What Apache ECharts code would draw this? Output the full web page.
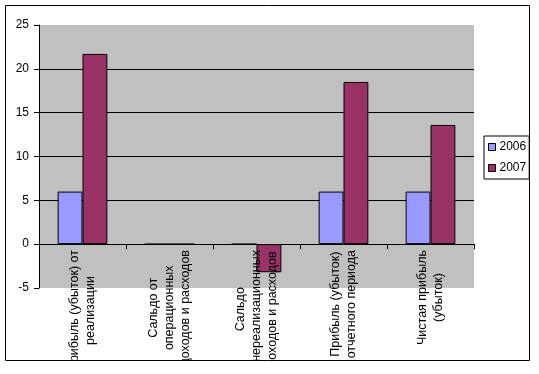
<!DOCTYPE html>
<html>
<head>
<meta charset="utf-8">
<script src="https://cdn.jsdelivr.net/npm/echarts@6/dist/echarts.min.js"></script>
<style>
  html, body { margin: 0; padding: 0; background: #ffffff; }
  #chart { width: 539px; height: 361px; }
</style>
</head>
<body>
<div id="chart"></div>
<script>
const categories = [
  'Прибыль (убыток) от\nреализации',
  'Сальдо от\nоперационных\nдоходов и расходов',
  'Сальдо\nвнереализационных\nдоходов и расходов',
  'Прибыль (убыток)\nотчетного периода',
  'Чистая прибыль\n(убыток)'
];
const seriesNames = ['2006', '2007'];
const values2006 = [6, 0, 0, 6, 6];
const values2007 = [21.7, 0, -3.2, 18.5, 13.6];
const yMin = -5;
const yMax = 25;
const yStep = 5;

const FONT = '"Liberation Sans", Arial, sans-serif';
const chart = echarts.init(document.getElementById('chart'), null, { renderer: 'canvas' });

chart.setOption({
  animation: false,
  backgroundColor: '#ffffff',
  textStyle: { fontFamily: FONT, color: '#000' },
  grid: {
    left: 39, right: 65, top: 25, bottom: 73,
    containLabel: false,
    outerBoundsMode: 'none',
    show: true, backgroundColor: '#C0C0C0', borderWidth: 0
  },
  legend: {
    data: seriesNames,
    orient: 'vertical',
    left: 484, top: 136,
    itemWidth: 7, itemHeight: 7, itemGap: 7,
    icon: 'rect',
    padding: [4, 3, 4, 4],
    borderColor: '#000', borderWidth: 1,
    backgroundColor: '#fff',
    itemStyle: { borderColor: '#000', borderWidth: 1 },
    textStyle: { fontFamily: FONT, fontSize: 12, lineHeight: 14, color: '#000', padding: [0, 0, 0, -1] }
  },
  xAxis: {
    type: 'category',
    data: categories,
    boundaryGap: true,
    z: 5,
    axisLine: { onZero: true, lineStyle: { color: '#000', width: 1 } },
    axisTick: { show: true, interval: 0, length: 5, inside: false, alignWithLabel: false, lineStyle: { color: '#000' } },
    axisLabel: {
      interval: 0,
      rotate: 90,
      margin: -38,
      fontFamily: FONT,
      fontSize: 12.5,
      lineHeight: 16,
      color: '#000',
      formatter: function (v) {
        return v.split('\n').map(function (s) { return '{c|' + s + '}'; }).join('\n');
      },
      rich: {
        c: { align: 'center', fontFamily: FONT, fontSize: 12.5, lineHeight: 16, color: '#000' }
      }
    },
    splitLine: { show: false }
  },
  yAxis: {
    type: 'value',
    min: yMin, max: yMax, interval: yStep,
    axisLine: { show: true, onZero: false, lineStyle: { color: '#000', width: 1 } },
    axisTick: { show: true, length: 5, inside: false, lineStyle: { color: '#000' } },
    axisLabel: { margin: 10, fontFamily: FONT, fontSize: 12, color: '#000' },
    splitLine: { show: true, showMinLine: false, showMaxLine: false, lineStyle: { color: '#000', width: 1 } }
  },
  series: [
    {
      name: seriesNames[0], type: 'bar', data: values2006,
      barGap: '0%', barCategoryGap: '42.86%',
      itemStyle: { color: '#9999FF', borderColor: '#000', borderWidth: 1 }
    },
    {
      name: seriesNames[1], type: 'bar', data: values2007,
      barGap: '0%', barCategoryGap: '42.86%',
      itemStyle: { color: '#993366', borderColor: '#000', borderWidth: 1 }
    }
  ],
  graphic: [
    {
      type: 'rect', z: 100, silent: true,
      shape: { x: 5.5, y: 5.5, width: 524, height: 355 },
      style: { fill: null, stroke: '#000', lineWidth: 1 }
    }
  ]
});
</script>
</body>
</html>
